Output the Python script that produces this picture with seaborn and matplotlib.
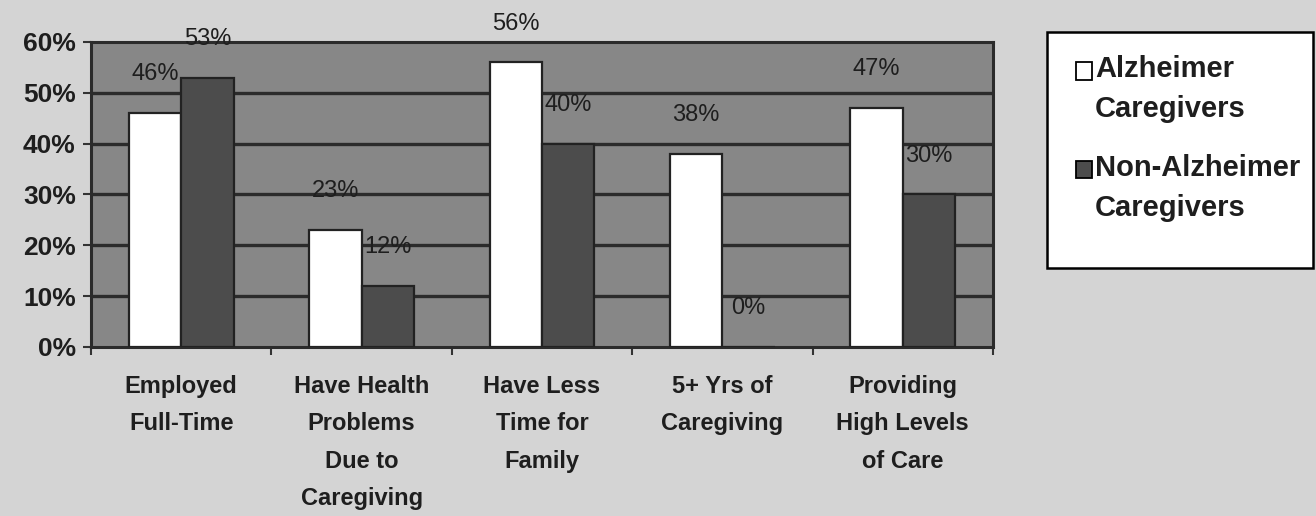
import numpy as np
import seaborn as sns
import matplotlib.pyplot as plt
import pandas as pd
from matplotlib.legend_handler import HandlerPatch

# data
categories = ["Employed\nFull-Time", "Have Health\nProblems\nDue to\nCaregiving",
              "Have Less\nTime for\nFamily", "5+ Yrs of\nCaregiving",
              "Providing\nHigh Levels\nof Care"]
alzheimer = [46, 23, 56, 38, 47]
non_alzheimer = [53, 12, 40, 0, 30]
groups = ["Alzheimer\nCaregivers", "Non-Alzheimer\nCaregivers"]
bar_colors = ["white", "#4c4c4c"]

df = pd.DataFrame({
    "Category": categories * 2,
    "Percent": alzheimer + non_alzheimer,
    "Group": [groups[0]] * 5 + [groups[1]] * 5,
})

sns.set_style("white")
plt.rcParams['font.family'] = ['Liberation Sans', 'DejaVu Sans']

W, H = 1316, 516
fig = plt.figure(figsize=(W / 100, H / 100), dpi=100, facecolor="#d4d4d4")
ax = fig.add_axes([91 / W, 1 - 347 / H, 902 / W, 305 / H])
ax.set_facecolor("#878787")

sns.barplot(data=df, x="Category", y="Percent", hue="Group",
            palette=bar_colors, width=0.58, edgecolor="#222222",
            linewidth=1.6, ax=ax, legend=False, zorder=3)

for c in ax.containers:
    ax.bar_label(c, labels=[f"{v:.0f}%" for v in c.datavalues], padding=20,
                 fontsize=17, color="#1e1e1e", zorder=4)

ax.set_ylim(0, 60)
ax.set_xlim(-0.5, 4.5)
ax.set_yticks(range(0, 61, 10))
ax.set_yticklabels([f"{t}%" for t in range(0, 61, 10)], fontsize=19,
                   fontweight="bold", color="#1e1e1e")
for y in range(10, 60, 10):
    ax.axhline(y, color="#2b2b2b", lw=2.4, zorder=1)

ax.set_xticks(range(5))
ax.set_xticklabels(categories, fontsize=17, fontweight="bold", color="#1e1e1e",
                   linespacing=1.8)
ax.set_xticks(np.arange(-0.5, 5, 1), minor=True)
ax.tick_params(axis="x", which="major", length=0, pad=20)
ax.tick_params(axis="x", which="minor", length=6, width=1.5, direction="out",
               color="#333333", bottom=True)
ax.tick_params(axis="y", length=6, width=1.5, direction="out", color="#333333",
               left=True, pad=5)
ax.set_xlabel("")
ax.set_ylabel("")
for s in ax.spines.values():
    s.set_color("#2b2b2b")
    s.set_linewidth(2.2)

# legend box
fig.patches.append(plt.Rectangle((1047 / W, 1 - 268 / H), 266 / W, 236 / H,
                                 transform=fig.transFigure, facecolor="white",
                                 edgecolor="black", lw=1.8, zorder=0))


def top_square(legend, orig_handle, xdescent, ydescent, width, height, fontsize):
    return plt.Rectangle((-xdescent, -ydescent + 13.5), width, height)


handles = [plt.Rectangle((0, 0), 1, 1, facecolor=col, edgecolor="black", lw=1.3)
           for col in bar_colors]
leg = fig.legend(handles, groups, loc="upper left",
                 bbox_to_anchor=(1076 / W, 1 - 55 / H), frameon=False,
                 prop={"size": 21, "weight": "bold"}, handlelength=0.55,
                 handleheight=0.55, handletextpad=0.1, labelspacing=1.05,
                 borderpad=0, borderaxespad=0,
                 handler_map={plt.Rectangle: HandlerPatch(patch_func=top_square)})
for t in leg.get_texts():
    t.set_color("#1e1e1e")
    t.set_linespacing(1.55)

fig.savefig("out.png", dpi=100, facecolor=fig.get_facecolor())
